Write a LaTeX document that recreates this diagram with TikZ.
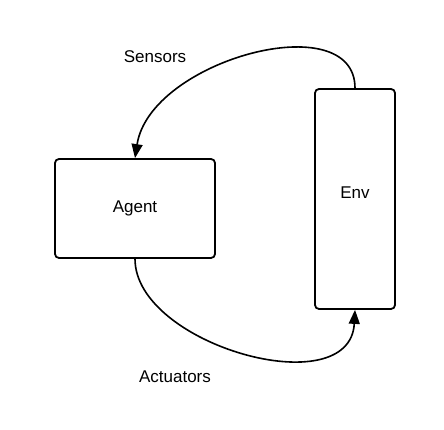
\documentclass[tikz,border=0pt]{standalone}
\usepackage{fontspec}
\setmainfont{Liberation Sans}
\usepackage{tikz}
\usetikzlibrary{arrows.meta,positioning}

\tikzset{
  block/.style={draw, line width=1.8pt, rounded corners=4pt, inner sep=0pt},
  link/.style={line width=1.6pt, -{Triangle[length=14pt,width=11pt]}},
}

\begin{document}
\begin{tikzpicture}[x=1pt,y=1pt,font=\fontsize{17}{20}\selectfont]
  \useasboundingbox (0,0) rectangle (444,430);
  \node[block, minimum width=160pt, minimum height=99pt] (agent) at (135,221.5) {Agent};
  \node[block, minimum width=80pt, minimum height=220pt] (env) at (355,231) {};
  % the Env label sits high in its box
  \node (envtext) at (355,237) {Env};
  % labels of the two loops
  \node (sensors) at (155,373) {Sensors};
  \node (actuators) at (175,53) {Actuators};
  \draw[link] (env.north) .. controls (355,425) and (150,370) .. (agent.north);
  \draw[link] (agent.south) .. controls (135,85) and (350,25) .. (env.south);
\end{tikzpicture}
\end{document}
